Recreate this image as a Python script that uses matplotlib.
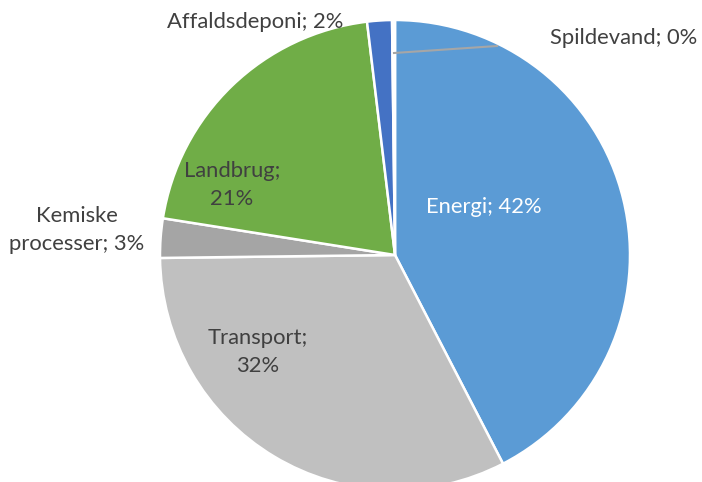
import matplotlib.pyplot as plt

# data (share of emissions, %)
sectors = ["Energi", "Transport", "Kemiske\nprocesser", "Landbrug", "Affaldsdeponi", "Spildevand"]
shares = [42.4, 32.4, 2.7, 20.6, 1.7, 0.2]
colors = ["#5B9BD5", "#C0C0C0", "#A5A5A5", "#70AD47", "#4472C4", "#FFFFFF"]

W, H = 702, 482
CX, CY, R = 395, 255, 235   # pie centre and radius in pixels


def px(x, y):
    """pixel position (from top left) -> data coords (radius 1 = R px)"""
    return (x - CX) / R, (CY - y) / R


# label centres in pixels, plus text colour
label_layout = {
    "Energi": ((484, 207), "white", "none"),
    "Transport": ((258, 352), "#404040", "break"),
    "Kemiske\nprocesser": ((77, 230), "#404040", "none"),
    "Landbrug": ((232, 185), "#404040", "break"),
    "Affaldsdeponi": ((255, 22), "#404040", "none"),
    "Spildevand": ((624, 38), "#404040", "none"),
}

plt.rcParams["font.family"] = ["Lato", "DejaVu Sans"]

fig = plt.figure(figsize=(W / 100, H / 100), dpi=100)
ax = fig.add_axes([0, 0, 1, 1])

ax.pie(shares, colors=colors, startangle=90, counterclock=False, radius=1.0,
       wedgeprops=dict(edgecolor="white", linewidth=1.8))

for name, val in zip(sectors, shares):
    (lx, ly), col, mode = label_layout[name]
    pct = f"{val:.0f}%"
    if mode == "break":
        txt = f"{name};\n{pct}"
    else:
        txt = f"{name}; {pct}"
    x, y = px(lx, ly)
    ax.text(x, y, txt, ha="center", va="center", fontsize=15.8, color=col,
            linespacing=1.45)

# leader line for the tiny Spildevand slice
x0, y0 = px(394, 53)
x1, y1 = px(497, 46)
ax.plot([x0, x1], [y0, y1], color="#A6A6A6", linewidth=1.5)

ax.set_xlim(-CX / R, (W - CX) / R)
ax.set_ylim(-(H - CY) / R, CY / R)
ax.set_aspect("auto")
ax.axis("off")

fig.savefig("out.png", dpi=100, facecolor="white")
